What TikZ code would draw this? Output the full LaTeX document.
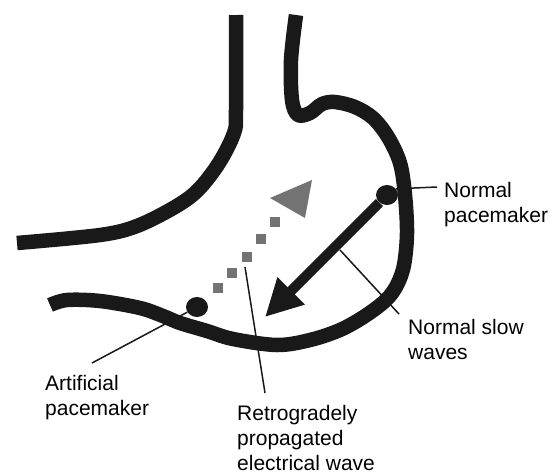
\documentclass[tikz,border=0pt]{standalone}
\usepackage{fontspec}
\setmainfont{Liberation Sans}
\usepackage{tikz}
\usetikzlibrary{arrows.meta,shapes.geometric}

\tikzset{
  wall/.style={black!90, line width=14.5pt, line cap=butt, line join=round},
  leader/.style={black!90, line width=1.5pt},
  pacer/.style={ellipse, fill=black!90, minimum width=22pt, minimum height=20pt, inner sep=0pt},
  speck/.style={fill=black!55},
  caption/.style={anchor=north west, align=left, inner sep=0pt, font=\fontsize{21}{25}\selectfont}
}

\begin{document}
\begin{tikzpicture}[x=1pt, y=-1pt]
\useasboundingbox (0,0) rectangle (557,475);

\draw [wall] plot [smooth, tension=0.55] coordinates {(236,15) (236,110) (234,133) (219,163) (198,190) (175,207) (137,226) (100,235) (17,243)};
\draw [wall] plot [smooth, tension=0.55] coordinates {(296,15) (291,60) (292,100) (298,115) (310,113) (322,104) (335,102) (355,107) (373,118) (388,137) (400,163) (405,195) (407,233) (404,265) (397,285) (386,300) (365,316) (340,330) (310,340) (277,345) (233,339) (207,331) (180,323) (163,316) (140,308) (100,301) (67,300) (50,305)};

\node [pacer] (npdot) at (387,195) {};
\node [pacer] (apdot) at (197,307) {};

\coordinate (tip) at (265,317);
\draw [black!90, line width=10pt, -{Triangle[length=37pt, width=36pt]}] (npdot) -- (tip);

\foreach \px/\py in {218/288, 232/273, 247/257, 261/239, 275/222}
  \fill [speck] (\px-5,\py-5) rectangle (\px+5,\py+5);
\fill [speck] (312,180) -- (270,198) -- (305,218) -- cycle;

\node [caption] (nptxt) at (444,182) {Normal\\pacemaker};
\node [caption] (swtxt) at (408,319) {Normal slow\\waves};
\node [caption] (aptxt) at (45,375) {Artificial\\pacemaker};
\node [caption] (rwtxt) at (237,405) {Retrogradely\\propagated\\electrical wave};

\coordinate (npend) at (437,187);
\coordinate (apend) at (92,363);
\coordinate (swa) at (340,250);
\coordinate (swb) at (399,314);
\coordinate (rwa) at (245,267);
\coordinate (rwb) at (265,393);

\draw [leader] (npdot.35) -- (npend);
\draw [leader] (apdot) -- (apend);
\draw [leader] (swa) -- (swb);
\draw [leader] (rwa) -- (rwb);

\end{tikzpicture}
\end{document}
